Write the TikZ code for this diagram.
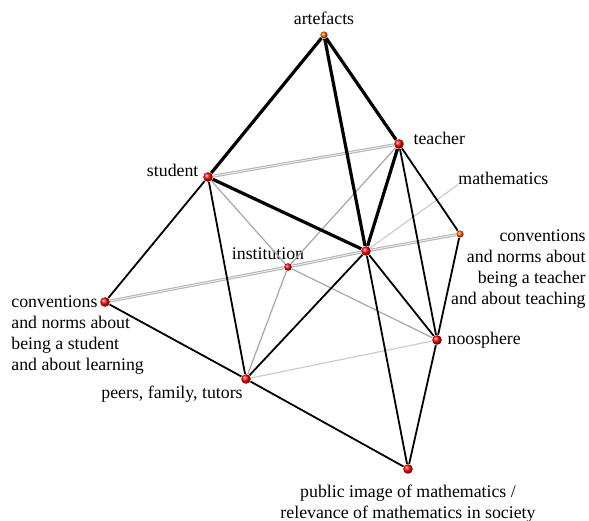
\documentclass[tikz,border=0pt]{standalone}
\usepackage{fontspec}
\setmainfont{Liberation Serif}
\usetikzlibrary{positioning}

\begin{document}
\begin{tikzpicture}[
      x=0.5pt, y=-0.5pt,
      node distance=2pt,
      dot/.style={circle, inner sep=0pt, minimum size=4.8pt, shading=ball, ball color=red},
      far dot/.style={dot, minimum size=3.6pt, ball color=orange!70!red},
      lbl/.style={inner sep=0pt, font=\fontsize{8.9}{10.5}\selectfont},
      link/.style={line width=0.9pt},
      heavy/.style={line width=1.6pt},
      rail/.style={draw=gray!60, line width=0.5pt, double=gray!15, double distance=0.5pt},
      greyline/.style={gray!70, line width=0.6pt},
      faint/.style={gray!40, line width=0.6pt}
    ]
    \useasboundingbox (0,0) rectangle (589,520);

    % points
    \node[far dot] (a) at (324,35) {};
    \node[dot] (t) at (399,144) {};
    \node[dot] (s) at (208,177) {};
    \node[dot] (m) at (366,251) {};
    \node[dot, minimum size=3.8pt] (i) at (288,267) {};
    \node[far dot] (ct) at (460,234) {};
    \node[dot] (cs) at (105,302) {};
    \node[dot] (n) at (437,340) {};
    \node[dot] (p) at (246,379) {};
    \node[dot] (pi) at (408,469) {};

    % labels
    \node[lbl, above=3pt of a] (al) {artefacts};
    \node[lbl, right=4.5pt of t, yshift=3pt] (tl) {teacher};
    \node[lbl, left=2pt of s, yshift=3.5pt] (sl) {student};
    \node[lbl, anchor=west] (ml) at (458,178) {mathematics};
    \node[lbl, above=1.5pt of i, xshift=-10pt] (il) {institution};
    \node[lbl, align=right, anchor=north east] (ctl) at (586,229)
      {conventions\\and norms about\\being a teacher\\and about teaching};
    \node[lbl, align=left, anchor=north west] (csl) at (11,295)
      {conventions\\and norms about\\being a student\\and about learning};
    \node[lbl, right=2.5pt of n] (nl) {noosphere};
    \node[lbl, anchor=east] (pl) at (243,394) {peers, family, tutors};
    \node[lbl, align=center, below=5pt of pi] (pil)
      {public image of mathematics /\\relevance of mathematics in society};

    % grey edges behind
    \draw[rail] (s) -- (t);
    \draw[rail] (cs) -- (i);
    \draw[rail] (i) -- (m);
    \draw[rail] (m) -- (ct);
    \draw[greyline] (s) -- (i);
    \draw[greyline] (i) -- (n);
    \draw[greyline] (t) -- (i);
    \draw[greyline] (i) -- (p);
    \draw[faint] (p) -- (n);
    \draw[faint] (m) -- (ml.south west);

    % black edges
    \draw[link] (s) -- (cs);
    \draw[link] (s) -- (p);
    \draw[link] (cs) -- (p);
    \draw[link] (p) -- (pi);
    \draw[link] (p) -- (m);
    \draw[link] (m) -- (pi);
    \draw[link] (m) -- (n);
    \draw[link] (t) -- (n);
    \draw[link] (t) -- (ct);
    \draw[link] (ct) -- (n);
    \draw[link] (n) -- (pi);

    % tetrahedron on top
    \draw[heavy] (a) -- (s);
    \draw[heavy] (a) -- (t);
    \draw[heavy] (a) -- (m);
    \draw[heavy] (s) -- (m);
    \draw[heavy] (t) -- (m);
  \end{tikzpicture}
\end{document}
